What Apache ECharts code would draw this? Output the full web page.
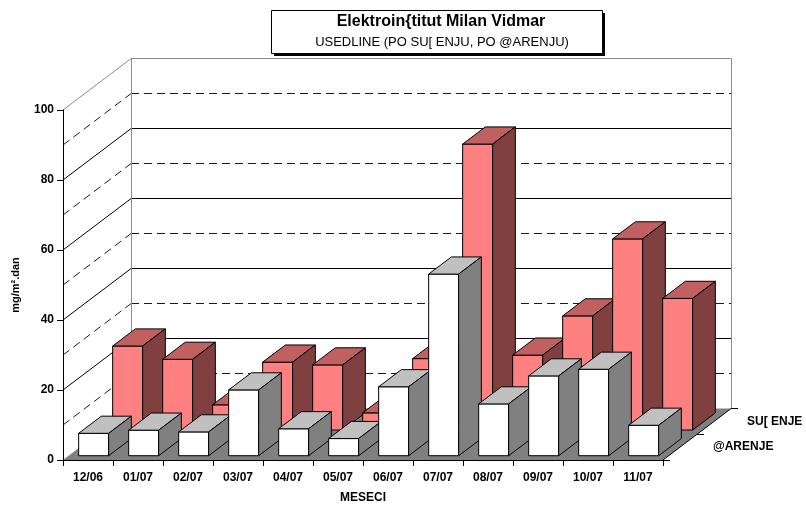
<!DOCTYPE html>
<html>
<head>
<meta charset="utf-8">
<script src="https://cdn.jsdelivr.net/npm/echarts@6/dist/echarts.min.js"></script>
<style>
  html, body { margin: 0; padding: 0; background: #fff; }
  #chart { width: 806px; height: 506px; }
</style>
</head>
<body>
<div id="chart"></div>
<script>
// Monthly deposit rates, mg/m2 per day
const months = ['12/06', '01/07', '02/07', '03/07', '04/07', '05/07', '06/07', '07/07', '08/07', '09/07', '10/07', '11/07'];
const susenje = [24.0, 20.2, 7.2, 19.4, 18.6, 4.9, 20.4, 81.7, 21.4, 32.6, 54.6, 37.6];
const zarenje = [6.4, 7.3, 6.8, 18.8, 7.7, 4.9, 19.7, 51.9, 14.8, 22.8, 24.7, 8.7];
const rowNames = ['@ARENJE', 'SU[ ENJE'];
const yTicks = [0, 20, 40, 60, 80, 100];

const titleText = 'Elektroin{titut Milan Vidmar';
const subtitleText = 'USEDLINE (PO SU[ ENJU, PO @ARENJU)';
const xName = 'MESECI';
const yName = 'mg/m\u00b2.dan';

const FONT = 'Arial, "Liberation Sans", sans-serif';
// oblique projection of the depth axis (pixels for the full depth)
const DX = 68, DY = -51.4;
const yMin = yTicks[0], yMax = yTicks[yTicks.length - 1], yStep = yTicks[1] - yTicks[0];

function proj(pt, d) { return [pt[0] + d * DX, pt[1] + d * DY]; }
function crisp(v) { return Math.round(v - 0.5) + 0.5; }

function renderFrame(params, api) {
  const cs = params.coordSys;
  const xL = cs.x, xR = cs.x + cs.width;
  const yAt = v => api.coord([0, v])[1];
  const y0 = yAt(yMin), yT = yAt(yMax);
  const ch = [];
  // side wall and back wall
  ch.push({ type: 'polygon', shape: { points: [[xL, y0], [xL, yT], proj([xL, yT], 1), proj([xL, y0], 1)] }, style: { fill: '#fff' } });
  ch.push({ type: 'polygon', shape: { points: [proj([xL, y0], 1), proj([xL, yT], 1), proj([xR, yT], 1), proj([xR, y0], 1)] }, style: { fill: '#fff' } });
  // floor
  ch.push({ type: 'polygon', shape: { points: [[xL, y0], [xR, y0], proj([xR, y0], 1), proj([xL, y0], 1)] }, style: { fill: '#808080' } });
  // grid levels: solid at major ticks, dashed halfway between
  for (let v = yMin + yStep / 2; v < yMax - 1e-6; v += yStep / 2) {
    const major = Math.abs(v / yStep - Math.round(v / yStep)) < 1e-6;
    const y = yAt(v);
    const st = { stroke: major ? '#000' : '#1a1a1a', lineWidth: 1, lineDash: major ? null : [8, 5] };
    const yb = crisp(y + DY);
    ch.push({ type: 'line', shape: { x1: xL + DX, y1: yb, x2: xR + DX, y2: yb }, style: st });
    const pb = proj([xL, y], 1);
    ch.push({ type: 'line', shape: { x1: xL, y1: y, x2: pb[0], y2: pb[1] }, style: st });
  }
  // wall edges
  const gray = { stroke: '#8c8c8c', lineWidth: 1 };
  const bx0 = crisp(xL + DX), bx1 = crisp(xR + DX);
  const byT = crisp(yT + DY), by0 = y0 + DY;
  ch.push({ type: 'line', shape: { x1: bx0, y1: byT, x2: bx1, y2: byT }, style: gray });
  ch.push({ type: 'line', shape: { x1: bx0, y1: byT, x2: bx0, y2: by0 }, style: gray });
  ch.push({ type: 'line', shape: { x1: bx1, y1: byT, x2: bx1, y2: by0 }, style: gray });
  const tb = proj([xL, yT], 1);
  ch.push({ type: 'line', shape: { x1: xL, y1: yT, x2: tb[0], y2: tb[1] }, style: gray });
  return { type: 'group', children: ch };
}

function renderDepthAxis(params, api) {
  const cs = params.coordSys;
  const xR = cs.x + cs.width;
  const y0 = api.coord([0, yMin])[1];
  const ch = [];
  const pb = proj([xR, y0], 1);
  ch.push({ type: 'line', shape: { x1: xR, y1: y0, x2: pb[0], y2: pb[1] }, style: { stroke: '#000', lineWidth: 1 } });
  [0, 0.5, 1].forEach(d => {
    const p = proj([xR, y0], d);
    const y = crisp(p[1]);
    ch.push({ type: 'line', shape: { x1: p[0], y1: y, x2: p[0] + 7, y2: y }, style: { stroke: '#000', lineWidth: 1 } });
  });
  rowNames.forEach((name, r) => {
    const p = proj([xR, y0], r * 0.5 + 0.25);
    ch.push({ type: 'text', x: p[0] + 33, y: p[1], style: { text: name, fill: '#000', font: 'bold 12px ' + FONT, align: 'left', verticalAlign: 'middle' } });
  });
  return { type: 'group', children: ch };
}

function barRenderer(row, front, top, side) {
  return function (params, api) {
    const i = api.value(0), v = api.value(1);
    const base = api.coord([i, 0]);
    const peak = api.coord([i, v]);
    const half = api.size([1, 0])[0] * 0.3;
    const d0 = row * 0.5 + 0.5 / 6, d1 = d0 + 1 / 3;
    const xl = base[0] - half, xr = base[0] + half;
    const yb = base[1], yt = peak[1];
    const st = (fill) => ({ fill: fill, stroke: '#000', lineWidth: 1, lineJoin: 'miter' });
    return {
      type: 'group',
      children: [
        { type: 'polygon', shape: { points: [proj([xl, yb], d0), proj([xr, yb], d0), proj([xr, yt], d0), proj([xl, yt], d0)] }, style: st(front) },
        { type: 'polygon', shape: { points: [proj([xl, yt], d0), proj([xr, yt], d0), proj([xr, yt], d1), proj([xl, yt], d1)] }, style: st(top) },
        { type: 'polygon', shape: { points: [proj([xr, yb], d0), proj([xr, yb], d1), proj([xr, yt], d1), proj([xr, yt], d0)] }, style: st(side) }
      ]
    };
  };
}

const chart = echarts.init(document.getElementById('chart'), null, { renderer: 'canvas' });
const textStyle = { color: '#000', fontWeight: 'bold', fontSize: 12, fontFamily: FONT };

chart.setOption({
  animation: false,
  backgroundColor: '#fff',
  grid: { left: 63, top: 110, right: 143, bottom: 46, containLabel: false, outerBoundsMode: 'none' },
  xAxis: {
    type: 'category', data: months, boundaryGap: true, z: 10,
    axisLine: { show: true, lineStyle: { color: '#000', width: 1 } },
    axisTick: { show: true, interval: 0, length: 6, lineStyle: { color: '#000' } },
    axisLabel: Object.assign({ interval: 0, margin: 12 }, textStyle),
    splitLine: { show: false },
    name: xName, nameLocation: 'middle', nameGap: 32,
    nameTextStyle: textStyle
  },
  yAxis: {
    type: 'value', min: yMin, max: yMax, interval: yStep, z: 10,
    axisLine: { show: true, lineStyle: { color: '#000', width: 1 } },
    axisTick: { show: true, length: 6, lineStyle: { color: '#000' } },
    axisLabel: Object.assign({ margin: 9 }, textStyle),
    splitLine: { show: false },
    name: yName, nameLocation: 'middle', nameGap: 42, nameRotate: 90,
    nameTextStyle: { color: '#000', fontWeight: 'bold', fontSize: 11, fontFamily: FONT }
  },
  graphic: [
    { type: 'rect', shape: { x: 274, y: 13, width: 331, height: 43 }, style: { fill: '#000' }, z: 100 },
    { type: 'rect', shape: { x: 271.5, y: 10.5, width: 331, height: 43 }, style: { fill: '#fff', stroke: '#000', lineWidth: 1 }, z: 101 },
    { type: 'text', x: 441, y: 22, style: { text: titleText, font: 'bold 16px ' + FONT, fill: '#000', align: 'center', verticalAlign: 'middle' }, z: 102 },
    { type: 'text', x: 442, y: 42, style: { text: subtitleText, font: '13px ' + FONT, fill: '#000', align: 'center', verticalAlign: 'middle' }, z: 102 }
  ],
  series: [
    { type: 'custom', name: 'frame', silent: true, z: 1, clip: false, renderItem: renderFrame, data: [[0, 0]] },
    { type: 'custom', name: rowNames[1], silent: true, z: 2, clip: false,
      renderItem: barRenderer(1, '#ff8080', '#c06060', '#804040'),
      encode: { x: 0, y: 1 }, data: susenje.map((v, i) => [i, v]) },
    { type: 'custom', name: rowNames[0], silent: true, z: 3, clip: false,
      renderItem: barRenderer(0, '#ffffff', '#c0c0c0', '#808080'),
      encode: { x: 0, y: 1 }, data: zarenje.map((v, i) => [i, v]) },
    { type: 'custom', name: 'depth', silent: true, z: 4, clip: false, renderItem: renderDepthAxis, data: [[0, 0]] }
  ]
});
</script>
</body>
</html>
